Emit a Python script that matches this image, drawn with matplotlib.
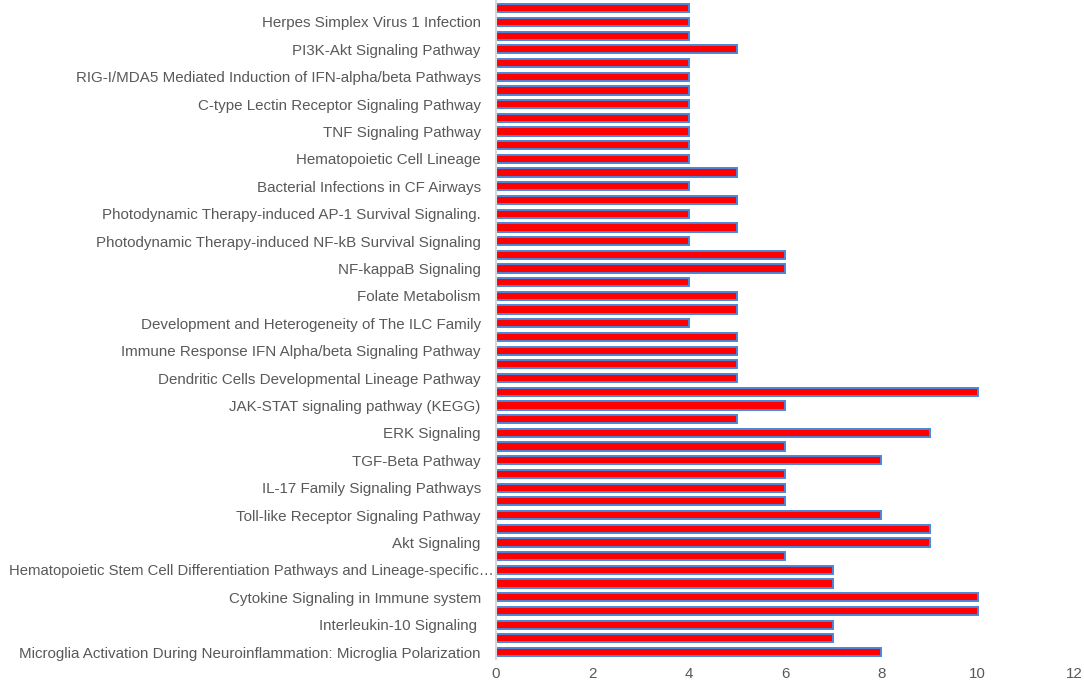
import numpy as np
import matplotlib
matplotlib.use("Agg")
import matplotlib.pyplot as plt
import matplotlib.transforms as mtransforms

# categories listed from bottom to top; unlabelled rows are hidden by the axis (every other label shown)
labels = [
    "Microglia Activation During Neuroinflammation: Microglia Polarization", "",
    "Interleukin-10 Signaling ", "",
    "Cytokine Signaling in Immune system", "",
    "Hematopoietic Stem Cell Differentiation Pathways and Lineage-specific…", "",
    "Akt Signaling", "",
    "Toll-like Receptor Signaling Pathway", "",
    "IL-17 Family Signaling Pathways", "",
    "TGF-Beta Pathway", "",
    "ERK Signaling", "",
    "JAK-STAT signaling pathway (KEGG)", "",
    "Dendritic Cells Developmental Lineage Pathway", "",
    "Immune Response IFN Alpha/beta Signaling Pathway", "",
    "Development and Heterogeneity of The ILC Family", "",
    "Folate Metabolism", "",
    "NF-kappaB Signaling", "",
    "Photodynamic Therapy-induced NF-kB Survival Signaling", "",
    "Photodynamic Therapy-induced AP-1 Survival Signaling.", "",
    "Bacterial Infections in CF Airways", "",
    "Hematopoietic Cell Lineage", "",
    "TNF Signaling Pathway", "",
    "C-type Lectin Receptor Signaling Pathway", "",
    "RIG-I/MDA5 Mediated Induction of IFN-alpha/beta Pathways", "",
    "PI3K-Akt Signaling Pathway", "",
    "Herpes Simplex Virus 1 Infection", "",
]
counts = [
    8, 7, 7, 10, 10, 7, 7, 6, 9, 9, 8, 6, 6, 6, 8, 6,
    9, 5, 6, 10, 5, 5, 5, 5, 4, 5, 5, 4, 6, 6, 4, 5,
    4, 5, 4, 5, 4, 4, 4, 4, 4, 4, 4, 4, 5, 4, 4, 4,
]

plt.rcParams['font.family'] = ['Liberation Sans', 'DejaVu Sans']
grey = '#595959'

fig = plt.figure(figsize=(10.84, 6.84), dpi=100)
ax = fig.add_axes([0.4576, 0.0367, 0.9908 - 0.4576, 0.998 - 0.0367])

y = np.arange(len(counts))
ax.barh(y, counts, height=0.6, color='#FF0000', edgecolor='#4A86DC', linewidth=1.4)

ax.set_yticks(y)
ax.set_yticklabels(labels)
ax.set_ylim(-0.5, len(counts) - 0.5)
ax.set_xlim(0, 12)
ax.set_xticks(np.arange(0, 13, 2))

for s in ['top', 'right', 'bottom']:
    ax.spines[s].set_visible(False)
ax.spines['left'].set_color('#D9D9D9')
ax.spines['left'].set_linewidth(1.5)
ax.tick_params(axis='both', length=0, colors=grey, labelsize=10.9)
ax.tick_params(axis='y', pad=11)
ax.tick_params(axis='x', pad=6)

# the long truncated label runs almost into the axis, as in the original
long_lab = ax.get_yticklabels()[6]
long_lab.set_fontsize(10.7)
long_lab.set_transform(long_lab.get_transform() +
                       mtransforms.ScaledTranslation(9 / 72, 0, fig.dpi_scale_trans))

fig.savefig('out.png', dpi=100)
